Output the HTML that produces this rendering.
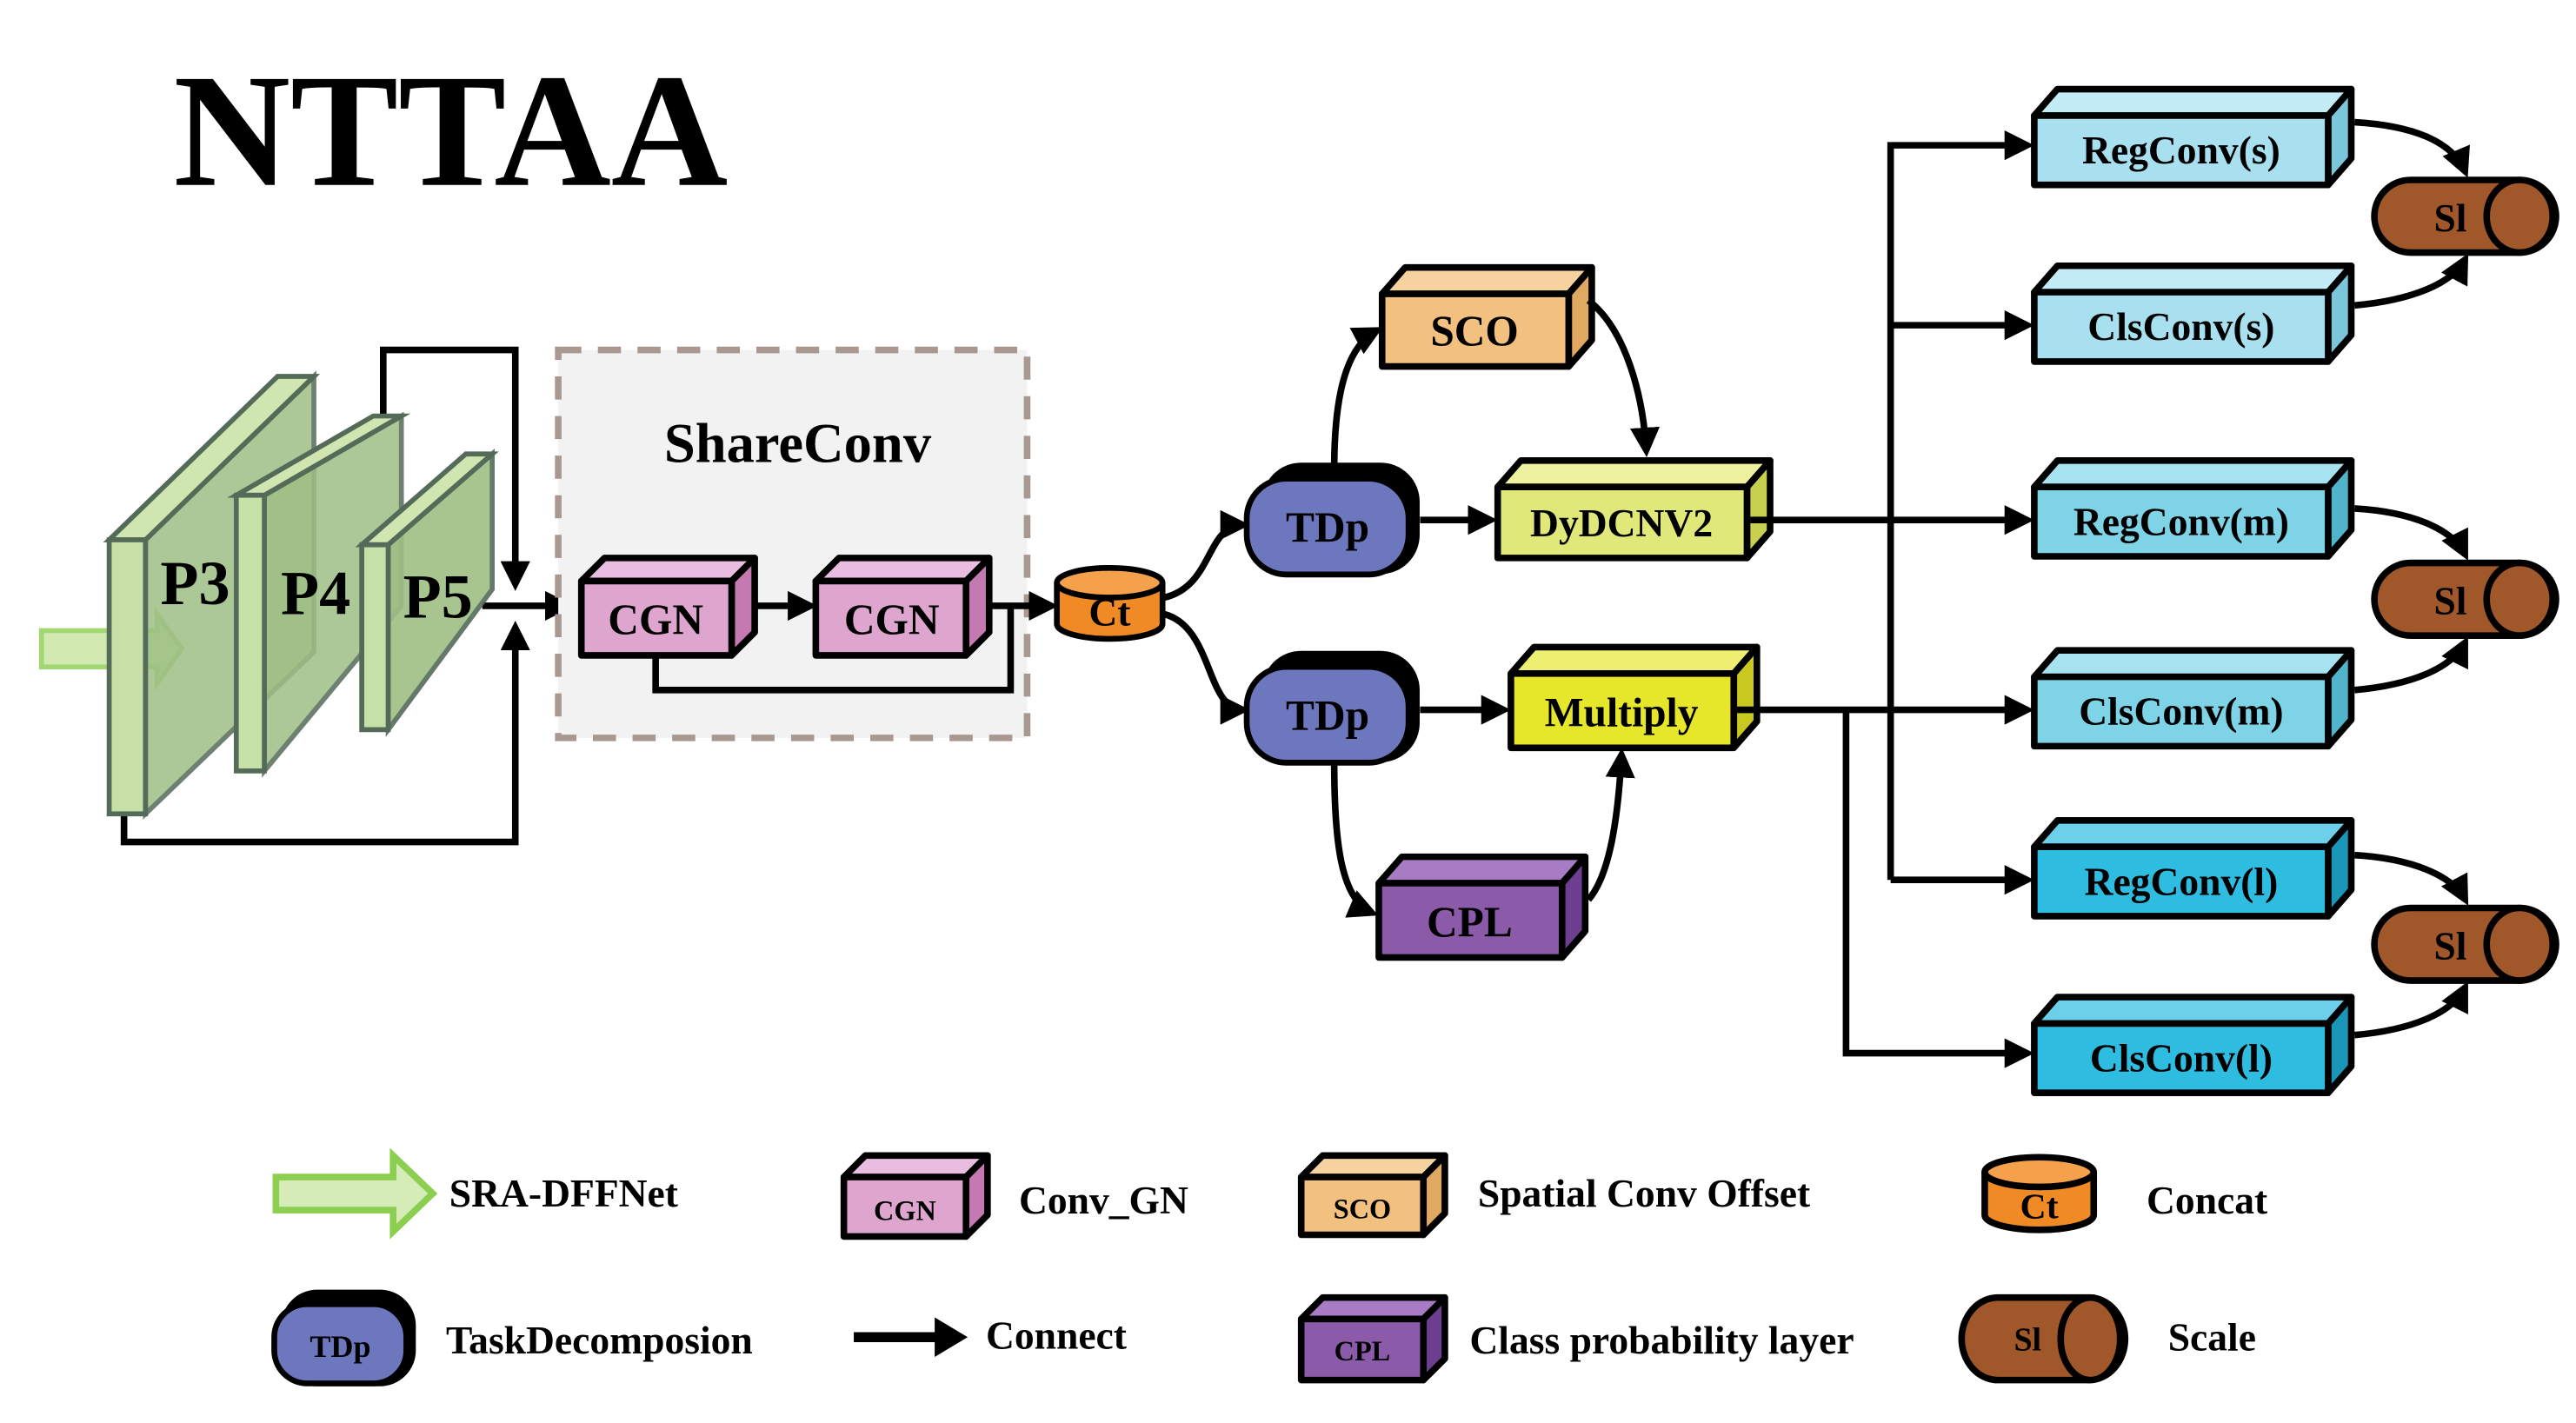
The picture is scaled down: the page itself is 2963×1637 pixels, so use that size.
<!DOCTYPE html>
<html><head><meta charset="utf-8"><style>html,body{margin:0;padding:0;background:#fff}svg{display:block}text{font-family:"Liberation Serif",serif;font-weight:bold}</style></head><body>
<svg width="2963" height="1637" viewBox="0 0 1560 862" xmlns="http://www.w3.org/2000/svg">
<defs>
<marker id="ah" markerWidth="4.5" markerHeight="4.5" refX="3.5" refY="2.25" orient="auto" markerUnits="strokeWidth"><path d="M0,0 L4.5,2.25 L0,4.5 z" fill="#000"/></marker>
</defs>
<text x="105" y="112" font-size="98">NTTAA</text>

<path d="M25,382 L95,382 L95,372 L110,393 L95,414 L95,404 L25,404 z" fill="#c8e6a0" stroke="#8cce50" stroke-width="3" opacity="0.8"/>

<g fill="none" stroke="#000" stroke-width="4">
<path d="M232,252 L232,212 L312,212 L312,354" marker-end="url(#ah)"/>
<path d="M75,493 L75,510 L312,510 L312,380" marker-end="url(#ah)"/>
<path d="M292,367 L344,367" marker-end="url(#ah)"/>
</g>

<g stroke="#556b5a" stroke-width="3">
<path d="M88,327 L190,228 L190,395 L88,493 z" fill="#9fbf85" opacity="0.85"/>
<path d="M66,327 L168,228 L190,228 L88,327 z" fill="#cfe6b0"/>
<rect x="66" y="327" width="22" height="166" fill="#c6e0a8"/>
<path d="M160,300 L243,252 L243,367 L160,467 z" fill="#9fbf85" opacity="0.85"/>
<path d="M143,300 L226,252 L243,252 L160,300 z" fill="#cfe6b0"/>
<rect x="143" y="300" width="17" height="167" fill="#c6e0a8"/>
<path d="M235,330 L298,275 L298,357 L235,442 z" fill="#9fbf85" opacity="0.9"/>
<path d="M219,330 L282,275 L298,275 L235,330 z" fill="#cfe6b0"/>
<rect x="219" y="330" width="16" height="112" fill="#c6e0a8"/>
</g>
<text x="97" y="366" font-size="38">P3</text>
<text x="170" y="372" font-size="38">P4</text>
<text x="244" y="374" font-size="38">P5</text>

<rect x="338" y="212" width="284" height="235" fill="#f2f2f2" stroke="#a89890" stroke-width="4" stroke-dasharray="14,10"/>
<text x="483" y="280" font-size="34" text-anchor="middle">ShareConv</text>

<g stroke="#000" stroke-width="4" stroke-linejoin="round">
<path d="M352,352 L366,338 L457,338 L443,352 z" fill="#e9bde0"/><path d="M443,352 L457,338 L457,383 L443,397 z" fill="#c47ab0"/><rect x="352" y="352" width="91" height="45" fill="#dea6cf"/>
<path d="M494,352 L508,338 L599,338 L585,352 z" fill="#e9bde0"/><path d="M585,352 L599,338 L599,383 L585,397 z" fill="#c47ab0"/><rect x="494" y="352" width="91" height="45" fill="#dea6cf"/>
</g>
<text x="397" y="384" font-size="26" text-anchor="middle">CGN</text>
<text x="540" y="384" font-size="26" text-anchor="middle">CGN</text>
<g fill="none" stroke="#000" stroke-width="4">
<path d="M458,367 L491,367" marker-end="url(#ah)"/>
<path d="M600,367 L637,367" marker-end="url(#ah)"/>
<path d="M397,397 L397,418 L612,418 L612,367"/>
</g>

<g stroke="#000" stroke-width="3.5">
<path d="M640,353 L640,378 A32,9 0 0 0 704,378 L704,353" fill="#f08a24"/>
<ellipse cx="672" cy="353" rx="32" ry="9" fill="#f5a04a"/>
</g>
<text x="672" y="379" font-size="24" text-anchor="middle">Ct</text>

<g fill="none" stroke="#000" stroke-width="4">
<path d="M705,362 C735,355 730,318 753,318" marker-end="url(#ah)"/>
<path d="M705,372 C735,380 730,430 753,430" marker-end="url(#ah)"/>
</g>

<g stroke="#000" stroke-width="3.5">
<rect x="766" y="282" width="92" height="64" rx="22" fill="#000"/>
<rect x="755" y="290" width="98" height="58" rx="24" fill="#6d77bd"/>
<rect x="766" y="396" width="92" height="64" rx="22" fill="#000"/>
<rect x="755" y="404" width="98" height="58" rx="24" fill="#6d77bd"/>
</g>
<text x="804" y="328" font-size="26" text-anchor="middle">TDp</text>
<text x="804" y="442" font-size="26" text-anchor="middle">TDp</text>

<g stroke="#000" stroke-width="4" stroke-linejoin="round">
<path d="M837,178 L851,162 L964,162 L950,178 z" fill="#f6d29e"/><path d="M950,178 L964,162 L964,206 L950,222 z" fill="#e0a860"/><rect x="837" y="178" width="113" height="44" fill="#f2c07f"/>
<path d="M907,295 L921,279 L1072,279 L1058,295 z" fill="#eef29e"/><path d="M1058,295 L1072,279 L1072,322 L1058,338 z" fill="#c8d050"/><rect x="907" y="295" width="151" height="43" fill="#e0e87a"/>
<path d="M915,408 L929,392 L1064,392 L1050,408 z" fill="#eeee70"/><path d="M1050,408 L1064,392 L1064,437 L1050,453 z" fill="#c8c820"/><rect x="915" y="408" width="135" height="45" fill="#e6e62a"/>
<path d="M835,535 L849,519 L960,519 L946,535 z" fill="#a87cc4"/><path d="M946,535 L960,519 L960,564 L946,580 z" fill="#6e3f90"/><rect x="835" y="535" width="111" height="45" fill="#8b5aa8"/>
</g>
<text x="893" y="209" font-size="26" text-anchor="middle">SCO</text>
<text x="982" y="325" font-size="24" text-anchor="middle">DyDCNV2</text>
<text x="982" y="440" font-size="25" text-anchor="middle">Multiply</text>
<text x="890" y="567" font-size="26" text-anchor="middle">CPL</text>

<g fill="none" stroke="#000" stroke-width="4">
<path d="M808,284 C808,240 815,210 834,200" marker-end="url(#ah)"/>
<path d="M962,182 C985,200 995,240 997,273" marker-end="url(#ah)"/>
<path d="M860,315 L903,315" marker-end="url(#ah)"/>
<path d="M860,430 L911,430" marker-end="url(#ah)"/>
<path d="M808,462 C808,510 812,545 831,553" marker-end="url(#ah)"/>
<path d="M962,545 C975,530 980,495 982,457" marker-end="url(#ah)"/>
<path d="M1145,533 L1145,88 L1228,88" marker-end="url(#ah)"/>
<path d="M1145,197 L1228,197" marker-end="url(#ah)"/>
<path d="M1145,533 L1228,533" marker-end="url(#ah)"/>
<path d="M1060,315 L1228,315" marker-end="url(#ah)"/>
<path d="M1052,430 L1228,430" marker-end="url(#ah)"/>
<path d="M1118,430 L1118,638 L1228,638" marker-end="url(#ah)"/>
</g>

<g stroke="#000" stroke-width="4" stroke-linejoin="round">
<path d="M1232,70 L1246,54 L1424,54 L1410,70 z" fill="#c4ecf6"/><path d="M1410,70 L1424,54 L1424,96 L1410,112 z" fill="#7cc6dc"/><rect x="1232" y="70" width="178" height="42" fill="#a8e0f0"/>
<path d="M1232,177 L1246,161 L1424,161 L1410,177 z" fill="#c4ecf6"/><path d="M1410,177 L1424,161 L1424,203 L1410,219 z" fill="#7cc6dc"/><rect x="1232" y="177" width="178" height="42" fill="#a8e0f0"/>
<path d="M1232,295 L1246,279 L1424,279 L1410,295 z" fill="#a6e2f0"/><path d="M1410,295 L1424,279 L1424,321 L1410,337 z" fill="#4fb4cc"/><rect x="1232" y="295" width="178" height="42" fill="#7fd3e6"/>
<path d="M1232,410 L1246,394 L1424,394 L1410,410 z" fill="#a6e2f0"/><path d="M1410,410 L1424,394 L1424,436 L1410,452 z" fill="#4fb4cc"/><rect x="1232" y="410" width="178" height="42" fill="#7fd3e6"/>
<path d="M1232,513 L1246,497 L1424,497 L1410,513 z" fill="#6cd0ea"/><path d="M1410,513 L1424,497 L1424,539 L1410,555 z" fill="#1a96b8"/><rect x="1232" y="513" width="178" height="42" fill="#2ebde0"/>
<path d="M1232,620 L1246,604 L1424,604 L1410,620 z" fill="#6cd0ea"/><path d="M1410,620 L1424,604 L1424,646 L1410,662 z" fill="#1a96b8"/><rect x="1232" y="620" width="178" height="42" fill="#2ebde0"/>
</g>
<g font-size="24" text-anchor="middle">
<text x="1321" y="99">RegConv(s)</text>
<text x="1321" y="206">ClsConv(s)</text>
<text x="1321" y="324">RegConv(m)</text>
<text x="1321" y="439">ClsConv(m)</text>
<text x="1321" y="542">RegConv(l)</text>
<text x="1321" y="649">ClsConv(l)</text>
</g>

<g stroke="#000" stroke-width="4">
<path d="M1460,109 L1526,109 A22,22 0 0 1 1526,153 L1460,153 A22,22 0 0 1 1460,109 z" fill="#a0582a"/><ellipse cx="1526" cy="131" rx="20" ry="22" fill="#a0582a"/>
<path d="M1460,341 L1526,341 A22,22 0 0 1 1526,385 L1460,385 A22,22 0 0 1 1460,341 z" fill="#a0582a"/><ellipse cx="1526" cy="363" rx="20" ry="22" fill="#a0582a"/>
<path d="M1460,550 L1526,550 A22,22 0 0 1 1526,594 L1460,594 A22,22 0 0 1 1460,550 z" fill="#a0582a"/><ellipse cx="1526" cy="572" rx="20" ry="22" fill="#a0582a"/>
</g>
<g font-size="24" text-anchor="middle"><text x="1484" y="140">Sl</text><text x="1484" y="372">Sl</text><text x="1484" y="581">Sl</text></g>
<g fill="none" stroke="#000" stroke-width="4">
<path d="M1426,74 C1460,76 1485,85 1493,104" marker-end="url(#ah)"/>
<path d="M1426,185 C1460,182 1485,172 1493,157" marker-end="url(#ah)"/>
<path d="M1426,308 C1460,310 1485,320 1493,336" marker-end="url(#ah)"/>
<path d="M1426,418 C1460,415 1485,405 1493,389" marker-end="url(#ah)"/>
<path d="M1426,518 C1460,520 1485,530 1493,545" marker-end="url(#ah)"/>
<path d="M1426,627 C1460,624 1485,614 1493,598" marker-end="url(#ah)"/>
</g>

<path d="M167,713 L238,713 L238,700 L262,723 L238,746 L238,733 L167,733 z" fill="#d6ecb8" stroke="#8cce50" stroke-width="4"/>
<text x="272" y="731" font-size="24">SRA-DFFNet</text>

<g stroke="#000" stroke-width="4" stroke-linejoin="round">
<path d="M511,713 L524,700 L598,700 L585,713 z" fill="#e9bde0"/><path d="M585,713 L598,700 L598,736 L585,749 z" fill="#c47ab0"/><rect x="511" y="713" width="74" height="36" fill="#dea6cf"/>
<path d="M788,713 L801,700 L875,700 L862,713 z" fill="#f6d29e"/><path d="M862,713 L875,700 L875,735 L862,748 z" fill="#e0a860"/><rect x="788" y="713" width="74" height="35" fill="#f2c07f"/>
<path d="M788,799 L801,786 L875,786 L862,799 z" fill="#a87cc4"/><path d="M862,799 L875,786 L875,823 L862,836 z" fill="#6e3f90"/><rect x="788" y="799" width="74" height="37" fill="#8b5aa8"/>
</g>
<text x="548" y="739" font-size="17" text-anchor="middle">CGN</text>
<text x="617" y="735" font-size="24">Conv_GN</text>
<text x="825" y="738" font-size="17" text-anchor="middle">SCO</text>
<text x="895" y="731" font-size="24">Spatial Conv Offset</text>
<text x="825" y="824" font-size="17" text-anchor="middle">CPL</text>
<text x="890" y="820" font-size="24">Class probability layer</text>

<g stroke="#000" stroke-width="4">
<path d="M1202,710 L1202,736 A33,9 0 0 0 1268,736 L1268,710" fill="#f08a24"/>
<ellipse cx="1235" cy="710" rx="33" ry="9" fill="#f5a04a"/>
</g>
<text x="1235" y="738" font-size="22" text-anchor="middle">Ct</text>
<text x="1300" y="735" font-size="24">Concat</text>

<g stroke="#000" stroke-width="3.5">
<rect x="172" y="783" width="78" height="55" rx="20" fill="#000"/>
<rect x="166" y="790" width="80" height="48" rx="20" fill="#6d77bd"/>
</g>
<text x="206" y="822" font-size="19" text-anchor="middle">TDp</text>
<text x="270" y="820" font-size="24">TaskDecomposion</text>

<path d="M517,810 L568,810" stroke="#000" stroke-width="6" fill="none"/>
<path d="M566,798 L586,810 L566,822 z" fill="#000"/>
<text x="597" y="817" font-size="24">Connect</text>

<g stroke="#000" stroke-width="4">
<path d="M1210,786 L1265,786 A22,25 0 0 1 1265,836 L1210,836 A22,25 0 0 1 1210,786 z" fill="#a0582a"/><ellipse cx="1266" cy="811" rx="18" ry="25" fill="#a0582a"/>
</g>
<text x="1228" y="818" font-size="20" text-anchor="middle">Sl</text>
<text x="1313" y="818" font-size="24">Scale</text>
</svg>
</body></html>
